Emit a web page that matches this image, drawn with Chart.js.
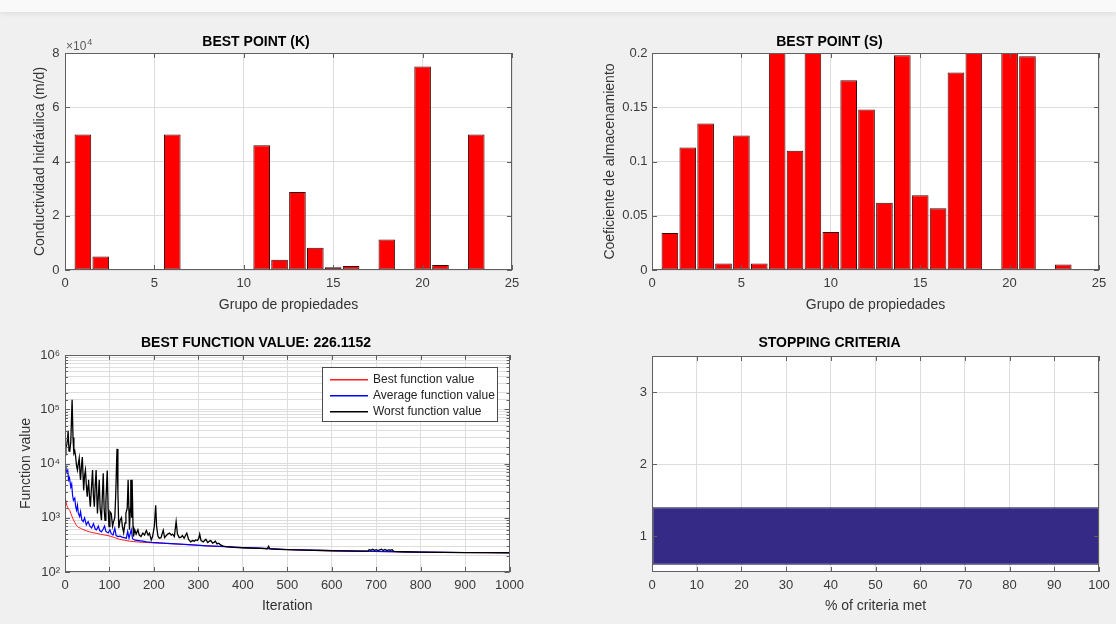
<!DOCTYPE html>
<html>
<head>
<meta charset="utf-8">
<script src="https://cdn.jsdelivr.net/npm/chart.js@4.4.1/dist/chart.umd.min.js"></script>
<style>
  html, body { margin: 0; padding: 0; }
  body { width: 1116px; height: 624px; background: #f0f0f0; position: relative; overflow: hidden; }
  #topband { position: absolute; left: 0; top: 0; width: 1116px; height: 12px; background: #f9f9f9; box-shadow: 0 2px 5px rgba(0,0,0,0.07); }
  canvas { position: absolute; }
</style>
</head>
<body>
<div id="topband"></div>
<canvas id="cK" width="530" height="292" style="left:0;top:28px"></canvas>
<canvas id="cS" width="556" height="292" style="left:560px;top:28px"></canvas>
<canvas id="cF" width="530" height="300" style="left:0;top:320px"></canvas>
<canvas id="cC" width="556" height="300" style="left:560px;top:320px"></canvas>
<script>
// --- data ---
const groups = [1, 2, 3, 4, 5, 6, 7, 8, 9, 10, 11, 12, 13, 14, 15, 16, 17, 18, 19, 20, 21, 22, 23];
const kValues = [50000, 5000, 100, 150, 100, 50000, 80, 80, 300, 50, 46000, 3800, 28800, 8200,
                 1000, 1500, 100, 11200, 50, 75000, 1800, 300, 50000];
const sValues = [0.034, 0.113, 0.135, 0.006, 0.124, 0.006, 0.2, 0.11, 0.2, 0.035, 0.175, 0.148,
                 0.062, 0.198, 0.069, 0.057, 0.182, 0.2, 0.001, 0.2, 0.197, 0.001, 0.005];
const kTickLabels = ['0', '2', '4', '6', '8'];          // x10^4
const logTickValues = [100, 1000, 10000, 100000, 1000000];
const logTickLabels = ['10²', '10³', '10⁴', '10⁵', '10⁶'];

const bestIter = [0, 2, 4, 6, 8, 11, 13, 16, 19, 22, 25, 28, 30, 35, 40, 48, 55, 63, 71, 80, 90, 101,
                  112, 123, 134, 145, 160, 175, 212, 250, 287, 320, 362, 400, 436, 500, 600, 700, 800, 900, 1000];
const bestVal = [2100, 2050, 1700, 1550, 1450, 1350, 1210, 1050, 910, 820, 740, 690, 665, 640, 610, 575, 550,
                 530, 515, 495, 480, 460, 430, 400, 385, 370, 360, 352, 340, 328, 315, 303, 293, 282, 274,
                 258, 245, 238, 232, 228, 226.1];

const avgIter = [0, 2, 3, 5, 6, 8, 10, 13, 15, 17, 19, 22, 24, 26, 28, 30, 33, 35, 38, 41, 44, 48, 52, 56,
                 60, 64, 68, 71, 75, 78, 82, 86, 89, 92, 97, 101, 104, 108, 112, 115, 119, 124, 128, 133,
                 138, 141, 144, 149, 152, 156, 165, 175, 183, 195, 212, 230, 250, 287, 320, 362, 400, 436,
                 500, 600, 700, 800, 900, 1000];
const avgVal = [9300, 9000, 7000, 6600, 8000, 5000, 5500, 3700, 4200, 2600, 2100, 2300, 1600, 1380, 1700,
                1200, 1050, 1300, 900, 850, 1000, 740, 850, 700, 650, 780, 620, 600, 700, 580, 550, 620, 700,
                560, 525, 600, 510, 480, 640, 470, 450, 460, 440, 430, 420, 560, 420, 600, 410, 390, 380,
                370, 360, 352, 345, 338, 330, 315, 303, 293, 282, 276, 260, 247, 239, 233, 229, 226.2];

const worstIter = [0, 2, 4, 6, 7, 9, 11, 13, 16, 18, 20, 22, 24, 26, 28, 30, 32, 34, 35, 37, 39, 41, 42, 44,
                   46, 48, 50, 52, 53, 55, 57, 59, 62, 64, 66, 68, 70, 72, 73, 75, 77, 79, 82, 84, 86, 88,
                   90, 92, 95, 97, 99, 101, 104, 107, 109, 112, 114, 117, 119, 121, 124, 127, 129, 132, 135,
                   137, 140, 142, 144, 145, 147, 148, 150, 151, 153, 154, 157, 160, 164, 167, 171, 175, 179,
                   183, 187, 190, 194, 197, 201, 204, 206, 209, 212, 216, 219, 221, 224, 227, 231, 235, 239,
                   242, 246, 250, 253, 257, 261, 264, 268, 271, 274, 278, 283, 287, 291, 294, 298, 301, 303,
                   306, 311, 314, 317, 321, 325, 328, 332, 336, 338, 342, 346, 350, 356, 362, 380, 400, 420,
                   440, 455, 458, 461, 480, 500, 540, 580, 620, 660, 682, 684, 688, 692, 696, 700, 704, 708,
                   712, 716, 720, 724, 728, 732, 736, 740, 760, 800, 850, 900, 950, 1000];
const worstVal = [14500, 20000, 22000, 30000, 40000, 17000, 18000, 25000, 150000, 30000, 15500, 17000, 13300,
                  9000, 7600, 10000, 12600, 6000, 5000, 9000, 13200, 5000, 3200, 6000, 7600, 4000, 2450, 4000,
                  5000, 2500, 1600, 3000, 7600, 2500, 1600, 4000, 7600, 2000, 1200, 2500, 5000, 1500, 900,
                  2500, 6600, 1500, 900, 2000, 7400, 1500, 690, 1300, 1200, 700, 830, 1000, 2500, 18600, 3000,
                  640, 900, 1000, 700, 530, 800, 1200, 1500, 5000, 1200, 600, 1500, 5000, 1000, 5000, 700, 450,
                  600, 500, 600, 480, 450, 520, 480, 580, 480, 520, 390, 450, 700, 1700, 700, 460, 420, 430,
                  520, 590, 430, 460, 500, 520, 480, 500, 450, 850, 500, 430, 440, 470, 420, 470, 520, 400,
                  360, 380, 370, 390, 380, 420, 500, 380, 360, 380, 400, 350, 370, 380, 340, 355, 370, 330,
                  340, 316, 300, 293, 285, 280, 276, 272, 268, 300, 266, 262, 258, 253, 249, 246, 243, 242,
                  258, 252, 262, 250, 258, 248, 256, 264, 250, 260, 248, 255, 252, 258, 240, 236, 232, 230,
                  228, 227, 226.2];

const criteriaLevels = [1];
const criteriaMet = [100];
const criteriaTicks = [1, 2, 3];

// --- look ---
const FONT = '"Liberation Sans", Arial, Helvetica, sans-serif';
Chart.defaults.font.family = FONT;
Chart.defaults.color = '#3a3a3a';
Chart.defaults.animation = false;
const GRID = '#dedede';
const plainNum = v => String(Number(v.toFixed(4)));

// white plot area
const plotBg = {
  id: 'plotBg',
  beforeDraw(chart) {
    const a = chart.chartArea, ctx = chart.ctx;
    ctx.save();
    ctx.fillStyle = '#ffffff';
    ctx.fillRect(a.left, a.top, a.right - a.left, a.bottom - a.top);
    ctx.restore();
  }
};

// MATLAB-like box with inward ticks on all four sides
const axesBox = {
  id: 'axesBox',
  afterDatasetsDraw(chart) {
    const {ctx, chartArea: a, scales} = chart;
    ctx.save();
    ctx.strokeStyle = '#606060';
    ctx.lineWidth = 1;
    ctx.beginPath();
    Object.values(scales).forEach(s => {
      s.ticks.forEach(t => {
        const minor = s.type === 'logarithmic' && !logTickValues.includes(t.value);
        const len = minor ? 3 : 5;
        const p = Math.round(s.getPixelForValue(t.value)) + 0.5;
        if (s.isHorizontal()) {
          ctx.moveTo(p, a.bottom); ctx.lineTo(p, a.bottom - len);
          ctx.moveTo(p, a.top); ctx.lineTo(p, a.top + len);
        } else {
          ctx.moveTo(a.left, p); ctx.lineTo(a.left + len, p);
          ctx.moveTo(a.right, p); ctx.lineTo(a.right - len, p);
        }
      });
    });
    ctx.stroke();
    ctx.strokeRect(Math.round(a.left) + 0.5, Math.round(a.top) + 0.5,
                   Math.round(a.right - a.left) - 1, Math.round(a.bottom - a.top) - 1);
    ctx.restore();
  }
};

function titleOpts(text, padTop, padBottom) {
  return {
    display: true, text: text, color: '#000',
    font: {size: 14, weight: 'bold'},
    padding: {top: padTop, bottom: padBottom}
  };
}

function xAxis(min, max, step, label, height, titleBottom) {
  return {
    type: 'linear', min: min, max: max, offset: false,
    grid: {color: GRID, drawTicks: false, offset: false},
    border: {display: false},
    ticks: {stepSize: step, padding: 6, font: {size: 13}, maxRotation: 0, autoSkip: false, callback: plainNum},
    title: {display: true, text: label, color: '#333', font: {size: 14}, padding: {top: 0, bottom: titleBottom}},
    afterFit: s => { s.height = height; }
  };
}

function yAxis(label, width, titleOffset, extra) {
  return Object.assign({
    grid: {color: GRID, drawTicks: false, offset: false},
    border: {display: false},
    title: {display: !!label, text: label, color: '#333', font: {size: 14}, padding: {top: titleOffset - 8.4, bottom: 0}},
    afterFit: s => { s.width = width; }
  }, extra);
}

const barStyle = {
  backgroundColor: '#ff0000',
  borderColor: '#3a0a0a',
  borderWidth: 1,
  borderSkipped: false,
  categoryPercentage: 1,
  barPercentage: 0.93
};

// --- BEST POINT (K) ---
new Chart(document.getElementById('cK'), {
  type: 'bar',
  data: {
    datasets: [Object.assign({data: groups.map((g, i) => ({x: g, y: kValues[i]}))}, barStyle)]
  },
  options: {
    responsive: false, devicePixelRatio: 1,
    layout: {padding: {left: 0, right: 18, top: 0, bottom: 0}},
    plugins: {
      legend: {display: false}, tooltip: {enabled: false},
      title: titleOpts('BEST POINT (K)', 5.3, 2.9)
    },
    scales: {
      x: xAxis(0, 25, 5, 'Grupo de propiedades', 50, 6.6),
      y: yAxis('Conductividad hidráulica (m/d)', 65, 40, {
        type: 'linear', min: 0, max: 80000,
        ticks: {padding: 5.5, font: {size: 13}, stepSize: 20000, autoSkip: false,
                callback: (v, i) => kTickLabels[i]}
      })
    }
  },
  plugins: [plotBg, axesBox, {
    id: 'expLabel',
    afterDraw(chart) {
      const ctx = chart.ctx, a = chart.chartArea;
      ctx.save();
      ctx.fillStyle = '#5a5a5a';
      ctx.textBaseline = 'alphabetic';
      ctx.font = '12px ' + FONT;
      ctx.fillText('×10', a.left + 1, a.top - 3);
      const w = ctx.measureText('×10').width;
      ctx.font = '9px ' + FONT;
      ctx.fillText('4', a.left + 1 + w + 1, a.top - 8);
      ctx.restore();
    }
  }]
});

// --- BEST POINT (S) ---
new Chart(document.getElementById('cS'), {
  type: 'bar',
  data: {
    datasets: [Object.assign({data: groups.map((g, i) => ({x: g, y: sValues[i]}))}, barStyle)]
  },
  options: {
    responsive: false, devicePixelRatio: 1,
    layout: {padding: {left: 0, right: 17, top: 0, bottom: 0}},
    plugins: {
      legend: {display: false}, tooltip: {enabled: false},
      title: titleOpts('BEST POINT (S)', 5.3, 2.9)
    },
    scales: {
      x: xAxis(0, 25, 5, 'Grupo de propiedades', 50, 6.6),
      y: yAxis('Coeficiente de almacenamiento', 92, 50, {
        type: 'linear', min: 0, max: 0.2,
        ticks: {padding: 4.5, font: {size: 13}, stepSize: 0.05, autoSkip: false, callback: plainNum}
      })
    }
  },
  plugins: [plotBg, axesBox]
});

// --- BEST FUNCTION VALUE ---
const seriesLabels = ['Best function value', 'Average function value', 'Worst function value'];
const seriesColors = ['rgb(255,30,30)', 'rgb(0,0,255)', 'rgb(0,0,0)'];
const seriesWidths = [1, 1.2, 1.3];
function line(iters, vals, k, order) {
  return {
    label: seriesLabels[k],
    data: iters.map((x, i) => ({x: x, y: vals[i]})),
    borderColor: seriesColors[k], borderWidth: seriesWidths[k],
    pointRadius: 0, tension: 0, fill: false, order: order
  };
}
new Chart(document.getElementById('cF'), {
  type: 'line',
  data: {
    datasets: [
      line(bestIter, bestVal, 0, 3),
      line(avgIter, avgVal, 1, 2),
      line(worstIter, worstVal, 2, 1)
    ]
  },
  options: {
    responsive: false, devicePixelRatio: 1,
    layout: {padding: {left: 0, right: 18, top: 0, bottom: 0}},
    plugins: {
      legend: {display: false}, tooltip: {enabled: false},
      title: titleOpts('BEST FUNCTION VALUE: 226.1152', 14.3, 3.9)
    },
    scales: {
      x: xAxis(0, 1000, 100, 'Iteration', 48, 5.6),
      y: yAxis('Function value', 65, 26, {
        type: 'logarithmic', min: 100, max: 1000000,
        ticks: {padding: 5, font: {size: 13}, autoSkip: false,
                callback: v => { const i = logTickValues.indexOf(v); return i >= 0 ? logTickLabels[i] : ''; }}
      })
    }
  },
  plugins: [plotBg, axesBox, {
    id: 'boxLegend',
    afterDraw(chart) {
      const ctx = chart.ctx, a = chart.chartArea;
      const w = 175, h = 54;
      const x0 = Math.round(a.right - 13 - w), y0 = Math.round(a.top + 12);
      ctx.save();
      ctx.fillStyle = '#fff';
      ctx.fillRect(x0, y0, w, h);
      ctx.strokeStyle = '#4a4a4a';
      ctx.lineWidth = 1;
      ctx.strokeRect(x0 + 0.5, y0 + 0.5, w, h);
      ctx.font = '12px ' + FONT;
      ctx.textBaseline = 'middle';
      for (let i = 0; i < seriesLabels.length; i++) {
        const yy = y0 + 12 + i * 16;
        ctx.fillStyle = seriesColors[i];
        ctx.fillRect(x0 + 8, yy, 38, 1.5);
        ctx.fillStyle = '#222';
        ctx.fillText(seriesLabels[i], x0 + 51, yy + 1);
      }
      ctx.restore();
    }
  }]
});

// --- STOPPING CRITERIA ---
new Chart(document.getElementById('cC'), {
  type: 'bar',
  data: {
    datasets: [{
      data: criteriaLevels.map((lv, i) => ({x: criteriaMet[i], y: lv})),
      backgroundColor: '#352a86',
      borderColor: '#14102e',
      borderWidth: 1,
      borderSkipped: false,
      categoryPercentage: 1,
      barPercentage: 0.8
    }]
  },
  options: {
    indexAxis: 'y',
    responsive: false, devicePixelRatio: 1,
    layout: {padding: {left: 0, right: 17, top: 0, bottom: 0}},
    plugins: {
      legend: {display: false}, tooltip: {enabled: false},
      title: titleOpts('STOPPING CRITERIA', 14.3, 4.9)
    },
    scales: {
      x: xAxis(0, 100, 10, '% of criteria met', 48, 5.6),
      y: yAxis('', 92, 0, {
        type: 'linear', min: 0.5, max: 3.5, offset: false,
        ticks: {padding: 5, font: {size: 13}, autoSkip: false},
        afterBuildTicks: s => { s.ticks = criteriaTicks.map(v => ({value: v})); }
      })
    }
  },
  plugins: [plotBg, axesBox]
});
</script>
</body>
</html>
